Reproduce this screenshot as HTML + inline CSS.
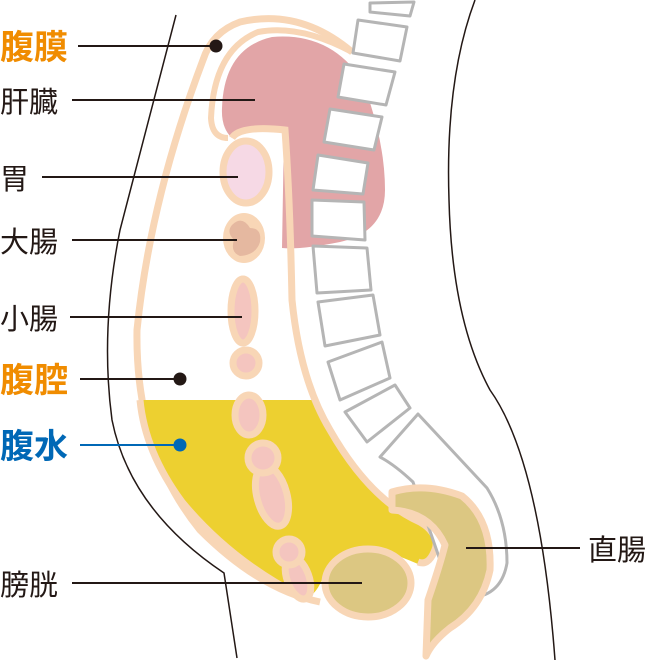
<!DOCTYPE html>
<html><head><meta charset="utf-8"><style>
body{margin:0;background:#fff;}
svg{display:block}
text{font-family:"Liberation Sans","Noto Sans CJK JP",sans-serif;font-size:29px}
</style></head><body>
<svg width="648" height="660" viewBox="0 0 648 660" xmlns="http://www.w3.org/2000/svg">
<path d="M176,15 L120,230 Q100,330 112,420 Q130,510 224,573 L237,658" fill="none" stroke="#231815" stroke-width="1.5"/>
<path d="M475,0 Q445,80 449,200 Q452,320 490,390 Q540,460 555,660" fill="none" stroke="#231815" stroke-width="1.5"/>
<path d="M222,108 Q224,48 272,37 Q330,32 362,80 Q385,140 385,190 Q385,232 340,242 Q300,250 282,248 L284,132 Q250,124 232,138 Q221,128 222,108Z" fill="#E2A5A7"/>
<path d="M352,52 Q300,8 240,22 Q212,32 203,60 Q150,200 137,330 Q135,450 200,530 Q260,590 320,602" fill="none" stroke="#F8D6B6" stroke-width="7"/>
<path d="M352,52 Q300,24 258,32 Q214,50 211,118 Q212,138 228,138" fill="none" stroke="#F8D6B6" stroke-width="6"/>
<path d="M140,400 L318,400 Q342,465 392,508 Q432,528 434,545 Q428,562 418,564 Q400,556 376,548 Q335,545 322,580 Q312,602 300,596 Q230,560 182,502 Q145,452 140,400Z" fill="#EDD030"/>
<path d="M232,138 Q240,125 285,130 Q290,200 292,300 Q300,380 330,430 Q370,500 420,522 Q442,535 434,552 Q428,566 418,562" fill="none" stroke="#F8D6B6" stroke-width="7"/>
<path d="M140,400 Q145,452 182,502 Q230,560 300,596" fill="none" stroke="#F8D6B6" stroke-width="7"/>
<g fill="#fff" stroke="#B5B5B5" stroke-width="3" stroke-linejoin="round">
<path d="M370,3 L414,2 L410,16 L370,12Z"/>
<path d="M358,20 L407,27 L400,61 L353,53Z"/>
<path d="M344,64 L395,72 L386,105 L338,97Z"/>
<path d="M330,109 L382,117 L374,150 L324,142Z"/>
<path d="M318,155 L368,163 L363,194 L313,190Z"/>
<path d="M312,200 L364,202 L365,240 L312,236Z"/>
<path d="M313,246 L367,248 L371,290 L317,293Z"/>
<path d="M318,302 L373,295 L380,335 L325,346Z"/>
<path d="M328,362 L382,342 L390,378 L340,400Z"/>
<path d="M345,412 L395,385 L410,408 L367,442Z"/>
<path d="M418,414 L487,488 Q507,520 507,563 Q502,592 477,597 L440,560 L413,482 Q395,465 380,457Z"/>
</g>
<path d="M392,492 Q425,482 462,496 Q492,520 490,570 Q482,608 450,628 Q432,642 426,656 L428,600 Q440,565 445,545 Q430,512 392,510Z" fill="#DCC782" stroke="#F8D6B6" stroke-width="7" stroke-linejoin="round"/>
<ellipse cx="368" cy="583" rx="43" ry="34" fill="#DCC782" stroke="#F8D6B6" stroke-width="7"/>
<ellipse cx="246" cy="172" rx="23" ry="31" fill="#F6D9E5" stroke="#F8D6B6" stroke-width="7"/>
<ellipse cx="244" cy="238" rx="21" ry="25" fill="#F8D6B6"/>
<path d="M232,225 Q242,215 250,228 Q262,228 260,242 Q256,255 240,256 Q230,252 234,240 Q226,232 232,225Z" fill="#E5B8A0"/>
<g fill="#F4C5BF" stroke="#F8D6B6" stroke-width="7">
<ellipse cx="243" cy="311" rx="12" ry="32"/>
<circle cx="246" cy="363" r="13"/>
<ellipse cx="249" cy="415" rx="14" ry="20"/>
<ellipse cx="272" cy="496" rx="15" ry="31" transform="rotate(-15 272 496)"/>
<circle cx="263" cy="458" r="15"/>
<ellipse cx="298" cy="578" rx="11" ry="22" transform="rotate(-20 298 578)"/>
<circle cx="289" cy="552" r="13"/>
</g>
<g stroke="#231815" stroke-width="2">
<line x1="78" y1="46" x2="215" y2="46"/>
<line x1="72" y1="100" x2="255" y2="100"/>
<line x1="42" y1="177" x2="238" y2="177"/>
<line x1="72" y1="240" x2="237" y2="240"/>
<line x1="70" y1="317" x2="242" y2="317"/>
<line x1="80" y1="379" x2="180" y2="379"/>
<line x1="72" y1="583" x2="362" y2="583"/>
<line x1="466" y1="548" x2="580" y2="548"/>
</g>
<line x1="80" y1="445" x2="180" y2="445" stroke="#0068B6" stroke-width="2"/>
<circle cx="216" cy="46" r="6.5" fill="#231815"/>
<circle cx="180" cy="379" r="6.5" fill="#231815"/>
<circle cx="180" cy="445" r="6.5" fill="#0068B6"/>
<text x="0" y="59" fill="#F08C00" style="font-weight:bold;font-size:34px">腹膜</text>
<text x="0" y="112" fill="#231815">肝臓</text>
<text x="0" y="189" fill="#231815">胃</text>
<text x="0" y="252" fill="#231815">大腸</text>
<text x="0" y="329" fill="#231815">小腸</text>
<text x="0" y="392" fill="#F08C00" style="font-weight:bold;font-size:34px">腹腔</text>
<text x="0" y="458" fill="#0068B6" style="font-weight:bold;font-size:34px">腹水</text>
<text x="0" y="595" fill="#231815">膀胱</text>
<text x="588" y="560" fill="#231815">直腸</text>
</svg>
</body></html>
